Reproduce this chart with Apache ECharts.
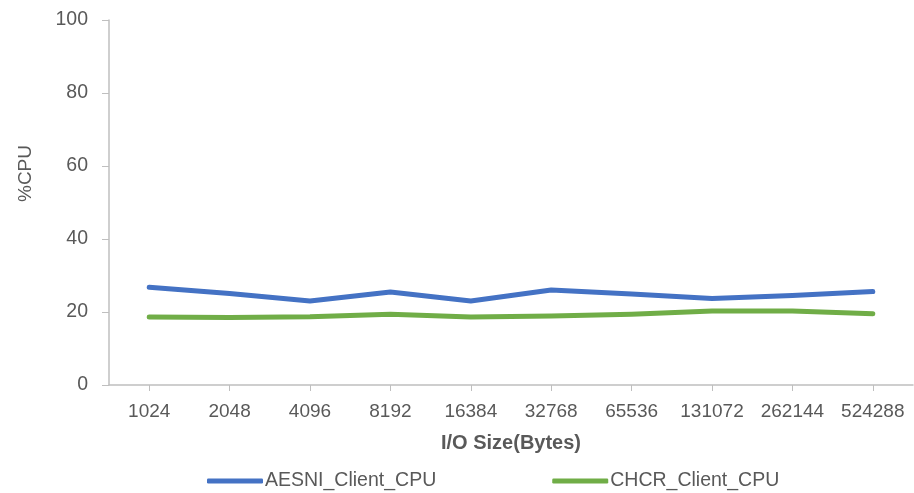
<!DOCTYPE html>
<html>
<head>
<meta charset="utf-8">
<script src="https://cdn.jsdelivr.net/npm/echarts@6/dist/echarts.min.js"></script>
<style>
  html, body { margin: 0; padding: 0; background: #fff; }
  #chart { width: 914px; height: 493px; }
</style>
</head>
<body>
<div id="chart"></div>
<script>
// I/O sizes in bytes (category axis)
const ioSizes = ['1024', '2048', '4096', '8192', '16384', '32768', '65536', '131072', '262144', '524288'];

// Client CPU utilisation (%)
const aesniClientCpu = [26.8, 25.1, 23.0, 25.5, 23.0, 26.0, 24.9, 23.7, 24.5, 25.6];
const chcrClientCpu  = [18.6, 18.5, 18.7, 19.4, 18.6, 18.9, 19.4, 20.3, 20.3, 19.5];

const seriesNames = ['AESNI_Client_CPU', 'CHCR_Client_CPU'];
const seriesColors = ['#4472C4', '#70AD47'];

const FONT = "'Liberation Sans', sans-serif";
const AXIS_GRAY = '#BFBFBF';
const TEXT_GRAY = '#595959';

const chart = echarts.init(document.getElementById('chart'));
chart.setOption({
  animation: false,
  textStyle: { fontFamily: FONT },
  grid: { left: 109, right: 1, top: 20, bottom: 108, containLabel: false },
  legend: {
    data: seriesNames,
    top: 466,
    left: 202,
    itemGap: 116,
    itemWidth: 56,
    itemHeight: 5,
    icon: 'roundRect',
    textStyle: { fontFamily: FONT, fontSize: 19.5, color: TEXT_GRAY, padding: [0, 0, 0, -3] }
  },
  xAxis: {
    type: 'category',
    data: ioSizes,
    boundaryGap: true,
    name: 'I/O Size(Bytes)',
    nameLocation: 'middle',
    nameGap: 48,
    nameTextStyle: { fontFamily: FONT, fontSize: 20, fontWeight: 'bold', color: TEXT_GRAY },
    axisLine: { lineStyle: { color: AXIS_GRAY, width: 1.5 } },
    axisTick: { show: true, alignWithLabel: true, length: 6, lineStyle: { color: AXIS_GRAY } },
    axisLabel: { fontSize: 19, color: TEXT_GRAY, margin: 17, interval: 0 },
    splitLine: { show: false }
  },
  yAxis: {
    type: 'value',
    min: 0,
    max: 100,
    interval: 20,
    name: '%CPU',
    nameLocation: 'middle',
    nameGap: 74,
    nameRotate: 90,
    nameTextStyle: { fontFamily: FONT, fontSize: 19, color: TEXT_GRAY, padding: [0, 0, 0, 58] },
    axisLine: { show: true, lineStyle: { color: AXIS_GRAY, width: 1.5 } },
    axisTick: { show: true, length: 7, lineStyle: { color: AXIS_GRAY } },
    axisLabel: { fontSize: 19.5, color: TEXT_GRAY, margin: 21 },
    splitLine: { show: false }
  },
  series: [
    {
      name: seriesNames[0],
      type: 'line',
      data: aesniClientCpu,
      symbol: 'none',
      color: seriesColors[0],
      lineStyle: { width: 5, cap: 'round', join: 'round' }
    },
    {
      name: seriesNames[1],
      type: 'line',
      data: chcrClientCpu,
      symbol: 'none',
      color: seriesColors[1],
      lineStyle: { width: 5, cap: 'round', join: 'round' }
    }
  ]
});
</script>
</body>
</html>
